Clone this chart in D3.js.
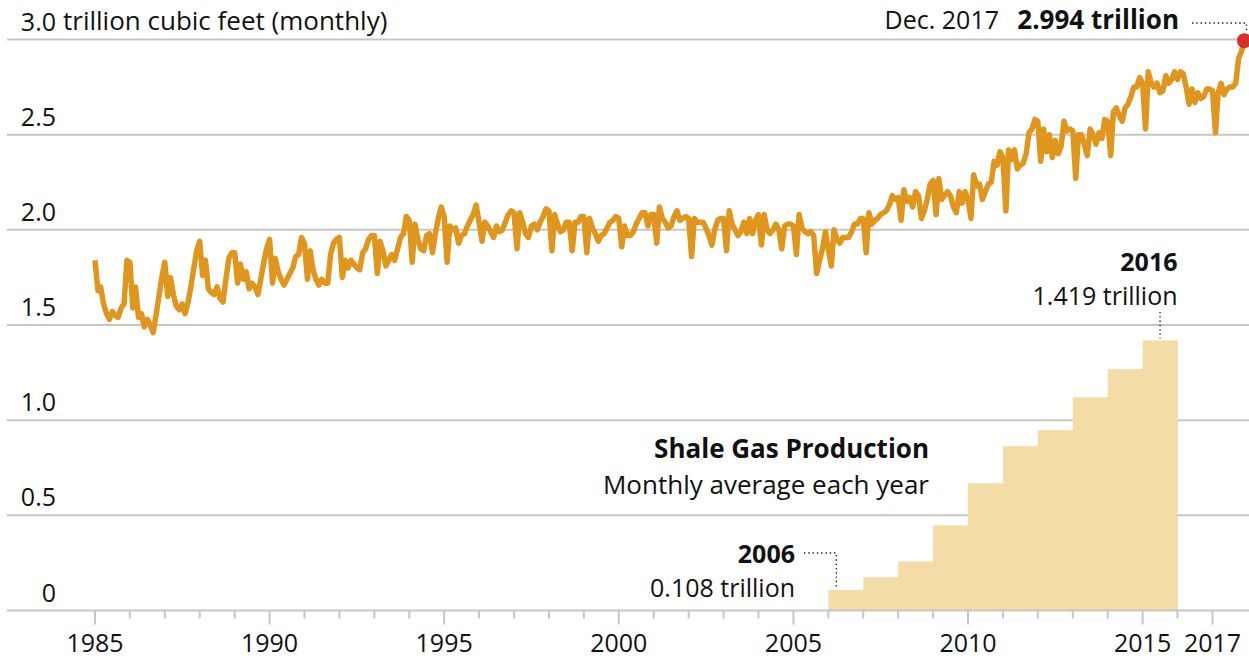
<!DOCTYPE html>
<html>
<head>
<meta charset="utf-8">
<script src="https://cdn.jsdelivr.net/npm/d3@7.9.0/dist/d3.min.js"></script>
<style>
  body { margin: 0; background: #fff; }
  svg { display: block; font-family: 'Open Sans', Lato, sans-serif; }
  .tick-label { font-size: 25px; fill: #111; }
  .note { font-size: 26px; fill: #111; }
  .bold { font-weight: 700; }
</style>
</head>
<body>
<svg id="chart" width="1249" height="658"></svg>
<script>
// monthly natural gas production, trillion cubic feet, Jan 1985 - Dec 2017
const startYear = 1985;
const production = [
  1.84, 1.68, 1.70, 1.61, 1.56, 1.53, 1.57, 1.55, 1.54, 1.59, 1.61, 1.84, // 1985
  1.83, 1.59, 1.70, 1.54, 1.56, 1.49, 1.53, 1.50, 1.46, 1.55, 1.65, 1.75, // 1986
  1.83, 1.65, 1.75, 1.66, 1.60, 1.58, 1.61, 1.56, 1.62, 1.70, 1.80, 1.89, // 1987
  1.94, 1.76, 1.84, 1.69, 1.67, 1.66, 1.70, 1.64, 1.62, 1.74, 1.85, 1.88, // 1988
  1.88, 1.72, 1.82, 1.74, 1.78, 1.69, 1.72, 1.70, 1.66, 1.74, 1.83, 1.90, // 1989
  1.95, 1.72, 1.85, 1.78, 1.74, 1.71, 1.74, 1.77, 1.80, 1.86, 1.87, 1.96, // 1990
  1.93, 1.74, 1.89, 1.79, 1.74, 1.71, 1.74, 1.72, 1.72, 1.87, 1.93, 1.95, // 1991
  1.96, 1.75, 1.84, 1.80, 1.84, 1.82, 1.80, 1.79, 1.88, 1.90, 1.95, 1.97, // 1992
  1.97, 1.77, 1.94, 1.89, 1.81, 1.84, 1.87, 1.84, 1.90, 1.96, 1.98, 2.07, // 1993
  2.05, 1.83, 2.03, 1.95, 1.90, 1.89, 1.97, 1.98, 1.88, 1.98, 2.06, 2.12, // 1994
  2.07, 1.83, 2.02, 2.00, 2.01, 1.93, 1.97, 1.98, 2.02, 2.05, 2.08, 2.13, // 1995
  2.04, 1.94, 2.04, 2.02, 1.99, 1.96, 2.02, 1.99, 2.00, 2.04, 2.08, 2.10, // 1996
  2.09, 1.90, 2.09, 2.04, 1.98, 1.96, 2.02, 2.03, 2.00, 2.04, 2.07, 2.11, // 1997
  2.10, 1.89, 2.08, 2.03, 1.99, 2.00, 2.04, 2.04, 1.89, 2.04, 2.04, 2.07, // 1998
  2.07, 1.88, 2.06, 2.01, 1.98, 1.94, 1.97, 1.98, 2.01, 2.04, 2.05, 2.07, // 1999
  2.06, 1.91, 2.02, 1.97, 1.97, 1.99, 2.03, 2.06, 2.09, 2.09, 2.02, 2.08, // 2000
  2.08, 1.93, 2.12, 2.06, 2.04, 2.01, 2.02, 2.07, 2.10, 2.05, 2.06, 2.07, // 2001
  2.06, 1.86, 2.06, 2.04, 2.04, 2.04, 2.01, 1.97, 1.92, 2.00, 2.05, 2.06, // 2002
  2.06, 1.89, 2.10, 2.03, 2.00, 1.97, 1.99, 2.04, 1.98, 2.06, 1.98, 2.05, // 2003
  2.08, 1.92, 2.08, 2.00, 1.98, 2.00, 2.03, 2.00, 1.90, 2.02, 2.03, 2.03, // 2004
  2.02, 1.87, 2.08, 2.01, 1.99, 1.98, 1.99, 1.97, 1.77, 1.84, 1.90, 1.99, // 2005
  1.90, 1.81, 2.00, 1.95, 1.93, 1.96, 1.96, 1.96, 1.99, 2.03, 2.03, 2.06, // 2006
  2.06, 1.88, 2.09, 2.03, 2.05, 2.06, 2.08, 2.09, 2.10, 2.13, 2.18, 2.16, // 2007
  2.17, 2.05, 2.21, 2.15, 2.17, 2.12, 2.20, 2.18, 2.06, 2.10, 2.16, 2.24, // 2008
  2.26, 2.08, 2.27, 2.16, 2.18, 2.20, 2.18, 2.12, 2.09, 2.20, 2.14, 2.20, // 2009
  2.16, 2.06, 2.29, 2.23, 2.24, 2.16, 2.20, 2.24, 2.25, 2.36, 2.34, 2.41, // 2010
  2.38, 2.10, 2.42, 2.37, 2.42, 2.32, 2.34, 2.35, 2.40, 2.51, 2.53, 2.58, // 2011
  2.57, 2.36, 2.53, 2.41, 2.50, 2.38, 2.47, 2.40, 2.44, 2.57, 2.52, 2.53, // 2012
  2.52, 2.27, 2.50, 2.50, 2.45, 2.39, 2.53, 2.50, 2.45, 2.51, 2.48, 2.58, // 2013
  2.57, 2.39, 2.62, 2.64, 2.60, 2.57, 2.64, 2.66, 2.70, 2.75, 2.75, 2.80, // 2014
  2.77, 2.53, 2.83, 2.77, 2.75, 2.77, 2.72, 2.73, 2.81, 2.77, 2.79, 2.83, // 2015
  2.79, 2.83, 2.82, 2.75, 2.66, 2.74, 2.67, 2.72, 2.69, 2.70, 2.74, 2.74, // 2016
  2.73, 2.51, 2.72, 2.77, 2.71, 2.74, 2.75, 2.75, 2.77, 2.90, 2.94, 2.994 // 2017
];

// shale gas, monthly average each year (as drawn in the chart)
const shaleYears = ['2006', '2007', '2008', '2010', '2011', '2012', '2013', '2014', '2015', '2016'];
const shaleValues = [0.108, 0.174, 0.258, 0.447, 0.668, 0.863, 0.947, 1.12, 1.268, 1.419];

const yTicks = [0, 0.5, 1.0, 1.5, 2.0, 2.5, 3.0];
const xLabelYears = [1985, 1990, 1995, 2000, 2005, 2010, 2015, 2017];

const width = 1249, height = 658;
const svg = d3.select('#chart');

const x = d3.scaleTime()
  .domain([new Date(1985, 0, 1), new Date(2017, 0, 1)])
  .range([95, 1212.5]);
const y = d3.scaleLinear().domain([0, 3]).range([610.5, 39.5]);

const data = production.map((v, i) => ({
  date: new Date(startYear + Math.floor(i / 12), i % 12, 1),
  value: v
}));

// gridlines
svg.append('g')
  .selectAll('line')
  .data(yTicks.filter((d) => d > 0))
  .join('line')
  .attr('x1', 7).attr('x2', width)
  .attr('y1', (d) => y(d)).attr('y2', (d) => y(d))
  .attr('stroke', '#c6c6c6').attr('stroke-width', 2);

// y labels
const yLab = svg.append('g');
yLab.selectAll('text')
  .data(yTicks)
  .join('text')
  .attr('class', 'tick-label')
  .attr('x', 56)
  .attr('y', (d) => y(d) - 9)
  .attr('text-anchor', 'end')
  .text((d) => (d === 0 ? '0' : d.toFixed(1)));
yLab.append('text')
  .attr('class', 'tick-label')
  .attr('x', 63)
  .attr('y', y(3) - 10)
  .style('font-size', '26px')
  .text('trillion cubic feet (monthly)');

// shale bars
const band = d3.scaleBand()
  .domain(shaleYears)
  .range([x(new Date(2006, 0, 1)), x(new Date(2016, 0, 1))])
  .padding(0);

svg.append('g')
  .selectAll('rect')
  .data(shaleYears)
  .join('rect')
  .attr('x', (d) => band(d))
  .attr('width', band.bandwidth() + 0.5)
  .attr('y', (d, i) => y(shaleValues[i]))
  .attr('height', (d, i) => y(0) - y(shaleValues[i]))
  .attr('fill', '#f3dca6');

// x axis
const xAxis = svg.append('g');
xAxis.append('line')
  .attr('x1', 7).attr('x2', width)
  .attr('y1', y(0)).attr('y2', y(0))
  .attr('stroke', '#c6c6c6').attr('stroke-width', 2);
xAxis.selectAll('line.tick')
  .data(d3.range(1985, 2018))
  .join('line')
  .attr('class', 'tick')
  .attr('x1', (d) => x(new Date(d, 0, 1)))
  .attr('x2', (d) => x(new Date(d, 0, 1)))
  .attr('y1', y(0))
  .attr('y2', (d) => y(0) + (xLabelYears.includes(d) ? 14 : 8))
  .attr('stroke', '#c6c6c6').attr('stroke-width', 2);
xAxis.selectAll('text')
  .data(xLabelYears)
  .join('text')
  .attr('class', 'tick-label')
  .attr('x', (d) => x(new Date(d, 0, 1)))
  .attr('y', 652)
  .attr('text-anchor', 'middle')
  .text((d) => d);

// production line
const line = d3.line()
  .x((d) => x(d.date))
  .y((d) => y(d.value));

svg.append('path')
  .datum(data)
  .attr('d', line)
  .attr('fill', 'none')
  .attr('stroke', '#e0951d')
  .attr('stroke-width', 5.5)
  .attr('stroke-linejoin', 'round');

const last = data[data.length - 1];
svg.append('circle')
  .attr('cx', x(last.date))
  .attr('cy', y(last.value))
  .attr('r', 7.5)
  .attr('fill', '#d8312b');

// annotations
const dotted = (pts) => svg.append('path')
  .attr('d', d3.line()(pts))
  .attr('fill', 'none')
  .attr('stroke', '#111')
  .attr('stroke-width', 1.3)
  .attr('stroke-dasharray', '1.3,3');

// two-line label: bold first line, regular second line, right aligned
function label(xPos, yPos, first, second, gap, size) {
  svg.append('text').attr('class', 'note bold').attr('text-anchor', 'end')
    .attr('x', xPos).attr('y', yPos).style('font-size', size + 'px').text(first);
  svg.append('text').attr('class', 'note').attr('text-anchor', 'end')
    .attr('x', xPos).attr('y', yPos + gap).style('font-size', size + 'px').text(second);
}

svg.append('text').attr('class', 'note').attr('x', 999).attr('y', 29)
  .attr('text-anchor', 'end').style('font-size', '25px').text('Dec. 2017');
svg.append('text').attr('class', 'note bold').attr('x', 1179).attr('y', 29)
  .attr('text-anchor', 'end').text('2.994 trillion');
dotted([[1192, 23], [x(last.date) + 2, 23], [x(last.date) + 2, 31]]);

const lastBar = shaleYears[shaleYears.length - 1];
const lastBarX = band(lastBar) + band.bandwidth() / 2;
label(band(lastBar) + band.bandwidth(), 271, '2016', '1.419 trillion', 34, 25);
dotted([[lastBarX, 312], [lastBarX, y(shaleValues[shaleValues.length - 1]) - 2]]);

label(929, 458, 'Shale Gas Production', 'Monthly average each year', 36, 26);

const firstBarX = band(shaleYears[0]) + 8;
label(795, 563, '2006', '0.108 trillion', 34, 25);
dotted([[804, 553], [firstBarX, 553], [firstBarX, y(shaleValues[0]) - 2]]);
</script>
</body>
</html>
